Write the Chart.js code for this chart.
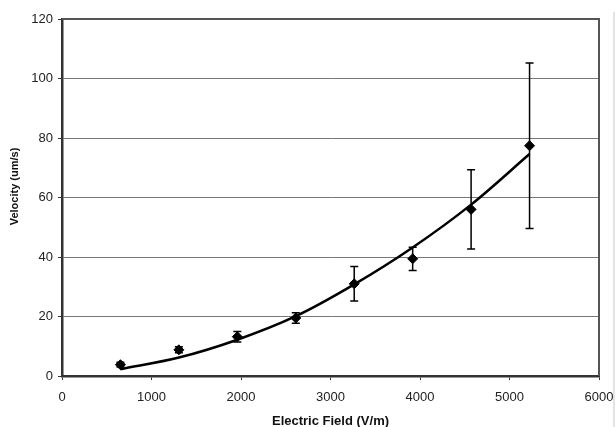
<!DOCTYPE html>
<html lang="en">
<head>
    <meta charset="UTF-8">
    <title>Velocity vs Electric Field</title>
    <script src="https://cdn.jsdelivr.net/npm/chart.js"></script>
    <style>
        body {
            margin: 0;
            background: #fff;
        }
    </style>
</head>
<body>
    <canvas id="fieldChart" width="616" height="427"></canvas>

    <script>
        // measured points
        const fieldValues = [653, 1306, 1959, 2612, 3265, 3918, 4571, 5224];
        const velocityValues = [3.8, 8.8, 13.2, 19.5, 31.0, 39.4, 56.0, 77.4];
        const velocityErrors = [0.8, 1.0, 1.8, 1.8, 5.8, 3.9, 13.3, 27.8];

        // trend line
        const trendField = [653, 1306, 1959, 2612, 3265, 3918, 4571, 5224];
        const trendVelocity = [2.3, 6.2, 12.2, 20.1, 30.8, 43.2, 57.6, 74.6];

        const xTicks = [0, 1000, 2000, 3000, 4000, 5000, 6000];
        const yTicks = [0, 20, 40, 60, 80, 100, 120];

        const yTitle = 'Velocity (um/s)';

        const pointData = fieldValues.map((x, i) => ({ x: x, y: velocityValues[i] }));
        const trendData = trendField.map((x, i) => ({ x: x, y: trendVelocity[i] }));

        // plot frame (top / right), faint page edge and the y title
        const framePlugin = {
            id: 'frame',
            beforeDatasetsDraw(chart) {
                const { ctx, chartArea: a } = chart;
                ctx.save();
                ctx.strokeStyle = '#555';
                ctx.lineWidth = 2;
                ctx.beginPath();
                ctx.moveTo(a.left, a.top);
                ctx.lineTo(a.right, a.top);
                ctx.lineTo(a.right, a.bottom);
                ctx.stroke();
                ctx.strokeStyle = '#e4e4e4';
                ctx.lineWidth = 2;
                ctx.beginPath();
                ctx.moveTo(614, 12);
                ctx.lineTo(614, 427);
                ctx.stroke();

                // y axis title sits a bit above the plot middle
                ctx.translate(15, (a.top + a.bottom) / 2 - 11);
                ctx.rotate(-Math.PI / 2);
                ctx.fillStyle = '#111';
                ctx.font = 'bold 11px "Liberation Sans"';
                ctx.textAlign = 'center';
                ctx.textBaseline = 'middle';
                ctx.fillText(yTitle, 0, 0);
                ctx.restore();
            }
        };

        const errorBarPlugin = {
            id: 'errorBars',
            afterDatasetsDraw(chart) {
                const { ctx, scales: { x, y } } = chart;
                ctx.save();
                ctx.strokeStyle = '#000';
                ctx.lineWidth = 1.5;
                fieldValues.forEach((f, i) => {
                    const px = x.getPixelForValue(f);
                    const top = y.getPixelForValue(velocityValues[i] + velocityErrors[i]);
                    const bot = y.getPixelForValue(velocityValues[i] - velocityErrors[i]);
                    ctx.beginPath();
                    ctx.moveTo(px, top);
                    ctx.lineTo(px, bot);
                    ctx.moveTo(px - 4, top);
                    ctx.lineTo(px + 4, top);
                    ctx.moveTo(px - 4, bot);
                    ctx.lineTo(px + 4, bot);
                    ctx.stroke();
                });
                ctx.restore();
            }
        };

        const ctx = document.getElementById('fieldChart').getContext('2d');
        new Chart(ctx, {
            type: 'scatter',
            data: {
                datasets: [
                    {
                        label: 'Velocity',
                        data: pointData,
                        pointStyle: 'rectRot',
                        pointRadius: 5,
                        pointBackgroundColor: '#000',
                        pointBorderColor: '#000',
                        pointBorderWidth: 1,
                        showLine: false,
                        order: 1
                    },
                    {
                        label: 'Trend',
                        data: trendData,
                        showLine: true,
                        pointRadius: 0,
                        borderColor: '#000',
                        borderWidth: 2.5,
                        cubicInterpolationMode: 'monotone',
                        order: 2
                    }
                ]
            },
            options: {
                responsive: false,
                animation: false,
                devicePixelRatio: 1,
                layout: {
                    padding: { top: 19, right: 17, left: 0, bottom: 0 }
                },
                plugins: {
                    legend: { display: false },
                    tooltip: { enabled: false }
                },
                scales: {
                    x: {
                        type: 'linear',
                        min: 0,
                        max: 6000,
                        afterBuildTicks: (scale) => {
                            scale.ticks = xTicks.map(v => ({ value: v }));
                        },
                        afterFit: (scale) => {
                            scale.height = 51;
                            scale.paddingLeft = 0;
                            scale.paddingRight = 0;
                        },
                        border: { color: '#333', width: 2.5 },
                        grid: {
                            drawOnChartArea: false,
                            drawTicks: true,
                            tickLength: 4,
                            tickColor: '#333'
                        },
                        ticks: {
                            color: '#222',
                            padding: 10,
                            maxRotation: 0,
                            autoSkip: false,
                            callback: (v) => String(v),
                            font: { family: 'Liberation Sans', size: 13 }
                        },
                        title: {
                            display: true,
                            text: 'Electric Field (V/m)',
                            color: '#111',
                            padding: { top: 0, bottom: -2 },
                            font: { family: 'Liberation Sans', size: 13, weight: 'bold' }
                        }
                    },
                    y: {
                        type: 'linear',
                        min: 0,
                        max: 120,
                        afterBuildTicks: (scale) => {
                            scale.ticks = yTicks.map(v => ({ value: v }));
                        },
                        afterFit: (scale) => {
                            scale.width = 62;
                            scale.paddingTop = 0;
                            scale.paddingBottom = 0;
                        },
                        border: { color: '#333', width: 2.5 },
                        grid: {
                            color: (c) => (c.tick && (c.tick.value === 0 || c.tick.value === 120)) ? 'rgba(0,0,0,0)' : '#777',
                            lineWidth: 1,
                            drawTicks: true,
                            tickLength: 4,
                            tickColor: '#333'
                        },
                        ticks: {
                            color: '#222',
                            padding: 5,
                            autoSkip: false,
                            callback: (v) => String(v),
                            font: { family: 'Liberation Sans', size: 13 }
                        },
                        title: { display: false }
                    }
                }
            },
            plugins: [framePlugin, errorBarPlugin]
        });
    </script>
</body>
</html>
